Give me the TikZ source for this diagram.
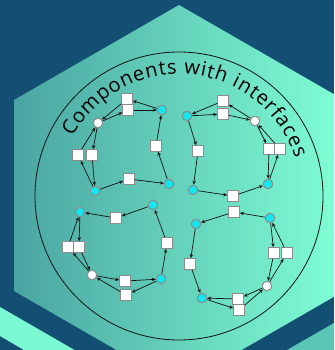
\documentclass[tikz,border=0pt]{standalone}
\usepackage{fontspec}
\newfontfamily\ifctitlefont{Open Sans}
\usetikzlibrary{arrows.meta,decorations.text}
\definecolor{ifcNavy}{HTML}{134F73}
\definecolor{ifcHexL}{HTML}{4AA5A2}
\definecolor{ifcHexR}{HTML}{80FFD5}
\definecolor{ifcLight}{HTML}{7BF9D2}
\definecolor{ifcTeal}{HTML}{5CC6B6}
\definecolor{ifcCyan}{HTML}{12E6EF}
\definecolor{ifcGray}{HTML}{8C8C8C}
\definecolor{ifcInk}{HTML}{111111}
\tikzset{
  every picture/.style={text=ifcInk},
  ifc port/.style={draw=ifcGray, line width=1pt, fill=white,
    minimum size=10.5pt, inner sep=0pt},
  ifc comp/.style={circle, draw=ifcGray, line width=1pt, fill=ifcCyan,
    minimum size=9.5pt, inner sep=0pt},
  ifc hub/.style={circle, draw=ifcGray, line width=1pt, fill=white,
    minimum size=9.5pt, inner sep=0pt},
  ifc arrow/.style={-{Stealth[length=4pt,width=3.4pt]},
    draw=ifcInk, line width=0.7pt},
  ifc ring/.style={draw=ifcInk, line width=0.8pt}
}

\begin{document}
\begin{tikzpicture}[x=1pt,y=1pt]
  \useasboundingbox (0,0) rectangle (334,-350);
  \clip (0,0) rectangle (334,-350);
  \fill[ifcNavy] (0,0) rectangle (334,-350);
  % neighbouring tiles
  \fill[ifcLight] (0,-307) -- (74.5,-350) -- (24,-350) -- (0,-336) -- cycle;
  \fill[ifcTeal] (334,-323) -- (287,-350) -- (334,-350) -- cycle;
  \shade[left color=ifcHexL, right color=ifcHexR] (179,-5) -- (344,-100) -- (344,-291)
    -- (179,-386) -- (14,-291) -- (14,-100) -- cycle;
  \draw[ifc ring] (179,-196) circle[radius=144];
  \path[decorate, decoration={text along path, text align=fit to path,
      text={|\ifctitlefont\fontsize{20}{20}\selectfont|Components with interfaces}}]
    (72.5,-137) arc[start angle=151, end angle=18, radius=122];

  % upper left
  \node[ifc comp] (nwc1) at (162,-110) {};
  \node[ifc port] (nwp1) at (127,-99) {};
  \node[ifc port] (nwp2) at (128,-110) {};
  \node[ifc hub]  (nwh)  at (98,-123) {};
  \node[ifc port] (nwp3) at (78,-155) {};
  \node[ifc port] (nwp4) at (92,-155) {};
  \node[ifc port] (nwp5) at (156,-146) {};
  \node[ifc comp] (nwc2) at (95,-191) {};
  \node[ifc port] (nwp6) at (129,-179) {};
  \node[ifc comp] (nwc3) at (169,-184) {};
  \path (nwc1) edge[ifc arrow] (nwp1)  (nwp1) edge[ifc arrow] (nwh)
        (nwh) edge[ifc arrow] (nwp2)   (nwp2) edge[ifc arrow] (nwc1)
        (nwh) edge[ifc arrow] (nwp4)   (nwp4) edge[ifc arrow] (nwc2)
        (nwc2) edge[ifc arrow] (nwp3)  (nwp3) edge[ifc arrow] (nwh)
        (nwc2) edge[ifc arrow] (nwp6)  (nwp6) edge[ifc arrow] (nwc3)
        (nwc3) edge[ifc arrow] (nwp5)  (nwp5) edge[ifc arrow] (nwc1);

  % upper right
  \node[ifc comp] (nec1) at (187,-116) {};
  \node[ifc port] (nep1) at (223,-101) {};
  \node[ifc port] (nep2) at (223,-114) {};
  \node[ifc hub]  (neh)  at (255,-121) {};
  \node[ifc port] (nep3) at (269,-149) {};
  \node[ifc port] (nep4) at (280,-149) {};
  \node[ifc port] (nep5) at (198,-151) {};
  \node[ifc comp] (nec2) at (193,-190) {};
  \node[ifc port] (nep6) at (233,-196) {};
  \node[ifc comp] (nec3) at (268,-184) {};
  \path (nep1) edge[ifc arrow] (nec1)  (nec1) edge[ifc arrow] (nep2)
        (nep2) edge[ifc arrow] (neh)   (neh) edge[ifc arrow] (nep1)
        (neh) edge[ifc arrow] (nep3)   (nep3) edge[ifc arrow] (nec3)
        (nec3) edge[ifc arrow] (nep4)  (nep4) edge[ifc arrow] (neh)
        (nec1) edge[ifc arrow] (nep5)  (nep5) edge[ifc arrow] (nec2)
        (nec2) edge[ifc arrow] (nep6)  (nep6) edge[ifc arrow] (nec3);

  % lower left
  \node[ifc comp] (swc1) at (80,-212) {};
  \node[ifc comp] (swc2) at (153,-205) {};
  \node[ifc port] (swp1) at (116,-218) {};
  \node[ifc port] (swp2) at (68,-247) {};
  \node[ifc port] (swp3) at (79,-247) {};
  \node[ifc port] (swp4) at (167,-243) {};
  \node[ifc hub]  (swh)  at (92,-275) {};
  \node[ifc port] (swp5) at (125,-281) {};
  \node[ifc port] (swp6) at (126,-295) {};
  \node[ifc comp] (swc3) at (161,-279) {};
  \path (swc2) edge[ifc arrow] (swp1)  (swp1) edge[ifc arrow] (swc1)
        (swc1) edge[ifc arrow] (swp3)  (swp3) edge[ifc arrow] (swh)
        (swh) edge[ifc arrow] (swp2)   (swp2) edge[ifc arrow] (swc1)
        (swh) edge[ifc arrow] (swp5)   (swp5) edge[ifc arrow] (swc3)
        (swc3) edge[ifc arrow] (swp6)  (swp6) edge[ifc arrow] (swh)
        (swc3) edge[ifc arrow] (swp4)  (swp4) edge[ifc arrow] (swc2);

  % lower right
  \node[ifc comp] (sec1) at (270,-218) {};
  \node[ifc port] (sep1) at (234,-212) {};
  \node[ifc comp] (sec2) at (196,-224) {};
  \node[ifc port] (sep2) at (190,-264) {};
  \node[ifc port] (sep3) at (274,-253) {};
  \node[ifc port] (sep4) at (287,-253) {};
  \node[ifc hub]  (seh)  at (267,-286) {};
  \node[ifc port] (sep5) at (238,-299) {};
  \node[ifc port] (sep6) at (239,-310) {};
  \node[ifc comp] (sec3) at (202,-298) {};
  \path (sec1) edge[ifc arrow] (sep1)  (sep1) edge[ifc arrow] (sec2)
        (sec2) edge[ifc arrow] (sep2)  (sep2) edge[ifc arrow] (sec3)
        (sec1) edge[ifc arrow] (sep3)  (sep3) edge[ifc arrow] (seh)
        (seh) edge[ifc arrow] (sep4)   (sep4) edge[ifc arrow] (sec1)
        (seh) edge[ifc arrow] (sep5)   (sep5) edge[ifc arrow] (sec3)
        (sec3) edge[ifc arrow] (sep6)  (sep6) edge[ifc arrow] (seh);
\end{tikzpicture}
\end{document}
